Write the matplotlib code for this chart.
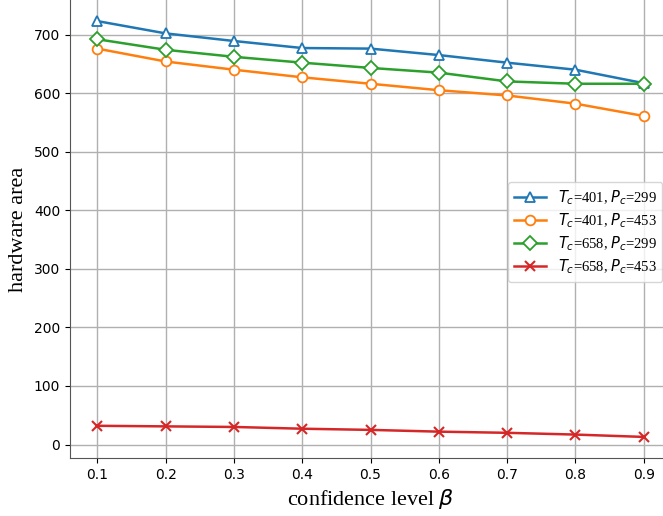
import matplotlib
matplotlib.use('Agg')
import matplotlib.pyplot as plt

beta = [0.1, 0.2, 0.3, 0.4, 0.5, 0.6, 0.7, 0.8, 0.9]

area_401_299 = [723, 702, 689, 677, 676, 665, 652, 640, 617]
area_401_453 = [676, 654, 640, 627, 616, 605, 596, 582, 561]
area_658_299 = [692, 674, 662, 652, 643, 635, 620, 616, 616]
area_658_453 = [32, 31, 30, 27, 25, 22, 20, 17, 13]

labels = [r'$T_c$=401, $P_c$=299', r'$T_c$=401, $P_c$=453',
          r'$T_c$=658, $P_c$=299', r'$T_c$=658, $P_c$=453']

fig = plt.figure(figsize=(6.63, 5.16), dpi=100)
# axes runs a little past the right and top edge, like the cropped original
ax = fig.add_axes([70/663, 58/516, 601/663, 458/516])

ax.plot(beta, area_401_299, '-^', color='#1f77b4', mfc='white', ms=7, lw=1.8, mew=1.3, label=labels[0])
ax.plot(beta, area_401_453, '-o', color='#ff7f0e', mfc='white', ms=7, lw=1.8, mew=1.3, label=labels[1])
ax.plot(beta, area_658_299, '-D', color='#2ca02c', mfc='white', ms=7, lw=1.8, mew=1.3, label=labels[2])
ax.plot(beta, area_658_453, '-x', color='#d62728', ms=7, lw=1.8, mew=1.5, label=labels[3])

ax.set_xticks(beta)
ax.set_xlim(0.06, 0.94)
ax.set_ylim(-23, 759)
ax.grid(True, color='#b0b0b0', lw=1)
ax.set_axisbelow(True)
ax.tick_params(labelsize=10)
for s in ['left', 'bottom']:
    ax.spines[s].set_color('#555555')
ax.spines['top'].set_visible(False)
ax.spines['right'].set_visible(False)

ax.set_xlabel(r'confidence level $\beta$', fontsize=16, family='Liberation Serif')
ax.set_ylabel('hardware area', fontsize=16, family='Liberation Serif')

leg = ax.legend(loc='upper left', bbox_to_anchor=(508/663, 1 - 182/516),
                bbox_transform=fig.transFigure, prop={'family': 'Liberation Serif', 'size': 10.5},
                handlelength=2.2, handletextpad=0.8, labelspacing=0.3, borderaxespad=0)

fig.savefig('out.png', dpi=100)
